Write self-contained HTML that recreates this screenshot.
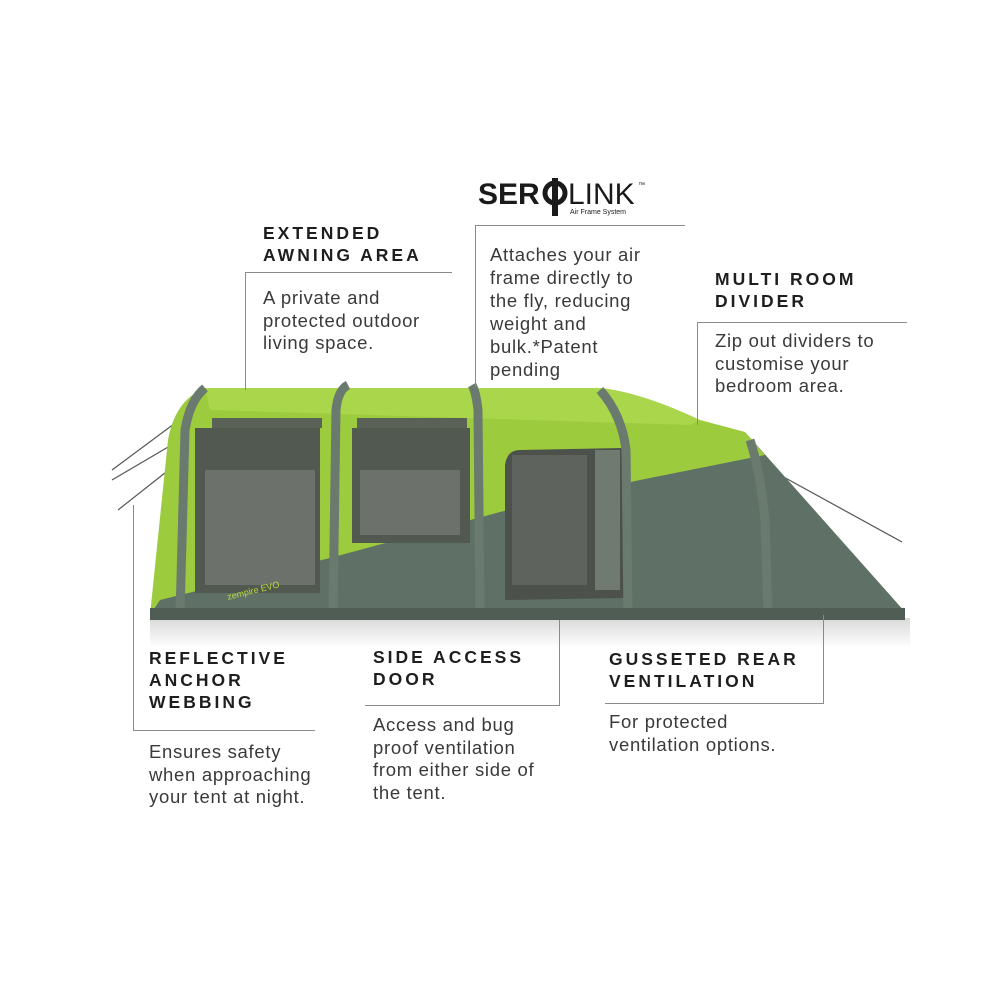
<!DOCTYPE html>
<html><head><meta charset="utf-8"><style>
body{margin:0;background:#fff;}
.w{position:relative;width:1000px;height:1000px;overflow:hidden;font-family:"Liberation Sans",sans-serif;color:#333;}
.h{position:absolute;font-weight:bold;font-size:17.5px;letter-spacing:3px;line-height:22px;color:#1e1e1e;}
.t{position:absolute;font-size:18.5px;letter-spacing:0.7px;line-height:22.5px;color:#3a3a3a;}
.l{position:absolute;background:#8a8a8a;}
</style></head><body><div class="w">
<svg width="1000" height="1000" style="position:absolute;left:0;top:0">
<defs>
<linearGradient id="refl" x1="0" y1="0" x2="0" y2="1"><stop offset="0" stop-color="#d8dad8"/><stop offset="1" stop-color="#fff"/></linearGradient>
</defs>
<rect x="150" y="618" width="760" height="30" fill="url(#refl)"/>
<g stroke="#555" stroke-width="1.2">
<line x1="112" y1="470" x2="190" y2="412"/><line x1="118" y1="510" x2="175" y2="465"/><line x1="112" y1="480" x2="180" y2="440"/>
<line x1="780" y1="475" x2="902" y2="542"/>
</g>
<path d="M150,615 L168,440 Q175,400 205,388 L600,388 Q640,392 700,420 L745,432 L905,612 L905,620 L155,620 Z" fill="#9ccb3e"/>
<path d="M205,388 L600,388 Q640,392 700,420 L690,425 L210,410 Z" fill="#a9d64b"/>
<path d="M150,615 L160,600 L330,558 L500,512 L640,480 L765,455 L745,432 L905,612 L905,620 L155,620 Z" fill="#5f7167"/>
<rect x="195" y="428" width="125" height="165" fill="#525950"/>
<rect x="205" y="470" width="110" height="115" fill="#6d716b"/>
<rect x="352" y="428" width="118" height="115" fill="#525950"/>
<rect x="360" y="470" width="100" height="65" fill="#6d716b"/>
<rect x="212" y="418" width="110" height="10" fill="#5a6258"/>
<rect x="357" y="418" width="110" height="10" fill="#5a6258"/>
<path d="M505,600 L505,465 Q507,450 520,450 L622,448 L625,598 Z" fill="#4c524b"/>
<rect x="512" y="455" width="75" height="130" fill="#5e635d"/>
<rect x="595" y="450" width="25" height="140" fill="#707a70"/>
<g fill="none" stroke="#6a7a6e" stroke-width="9">
<path d="M180,615 L185,430 Q190,400 205,388"/>
<path d="M333,615 L336,410 Q338,390 348,385"/>
<path d="M480,615 L478,410 Q476,392 472,385"/>
<path d="M628,615 L626,450 Q622,415 600,390"/>
<path d="M768,615 L765,520 Q760,470 750,440"/>
</g>
<rect x="150" y="608" width="755" height="12" fill="#4f5d55"/>
<text x="228" y="600" font-family="Liberation Sans,sans-serif" font-size="9" fill="#b7dc3a" transform="rotate(-14 228 600)">zempire EVO</text>
<text x="478" y="204" font-family="Liberation Sans,sans-serif" font-weight="bold" font-size="30" fill="#1a1a1a">SER</text>
<circle cx="555" cy="193" r="10" fill="none" stroke="#1a1a1a" stroke-width="5"/>
<rect x="552" y="178" width="6" height="38" fill="#1a1a1a"/>
<text x="568" y="204" font-family="Liberation Sans,sans-serif" font-size="30" fill="#1a1a1a">LINK</text>
<text x="638" y="187" font-family="Liberation Sans,sans-serif" font-size="7" fill="#1a1a1a">™</text>
<text x="570" y="214" font-family="Liberation Sans,sans-serif" font-size="7" fill="#1a1a1a">Air Frame System</text>
</svg>
<div class="l" style="left:245px;top:272px;width:207px;height:1px"></div>
<div class="l" style="left:245px;top:272px;width:1px;height:118px"></div>
<div class="l" style="left:475px;top:225px;width:210px;height:1px"></div>
<div class="l" style="left:475px;top:225px;width:1px;height:162px"></div>
<div class="l" style="left:697px;top:322px;width:210px;height:1px"></div>
<div class="l" style="left:697px;top:322px;width:1px;height:103px"></div>
<div class="l" style="left:133px;top:505px;width:1px;height:225px"></div>
<div class="l" style="left:133px;top:730px;width:182px;height:1px"></div>
<div class="l" style="left:559px;top:620px;width:1px;height:85px"></div>
<div class="l" style="left:365px;top:705px;width:195px;height:1px"></div>
<div class="l" style="left:823px;top:615px;width:1px;height:89px"></div>
<div class="l" style="left:605px;top:703px;width:219px;height:1px"></div>

<div class="h" style="left:263px;top:222px">EXTENDED<br>AWNING AREA</div>
<div class="t" style="left:263px;top:287px">A private and<br>protected outdoor<br>living space.</div>
<div class="t" style="left:490px;top:243px;line-height:23px">Attaches your air<br>frame directly to<br>the fly, reducing<br>weight and<br><span style="line-height:17px">bulk.*Patent<br>pending</span></div>
<div class="h" style="left:715px;top:268px">MULTI ROOM<br>DIVIDER</div>
<div class="t" style="left:715px;top:330px">Zip out dividers to<br>customise your<br>bedroom area.</div>
<div class="h" style="left:149px;top:647px">REFLECTIVE<br>ANCHOR<br>WEBBING</div>
<div class="t" style="left:149px;top:741px">Ensures safety<br>when approaching<br>your tent at night.</div>
<div class="h" style="left:373px;top:646px">SIDE ACCESS<br>DOOR</div>
<div class="t" style="left:373px;top:714px">Access and bug<br>proof ventilation<br>from either side of<br>the tent.</div>
<div class="h" style="left:609px;top:648px">GUSSETED REAR<br>VENTILATION</div>
<div class="t" style="left:609px;top:711px">For protected<br>ventilation options.</div>
</div></body></html>
